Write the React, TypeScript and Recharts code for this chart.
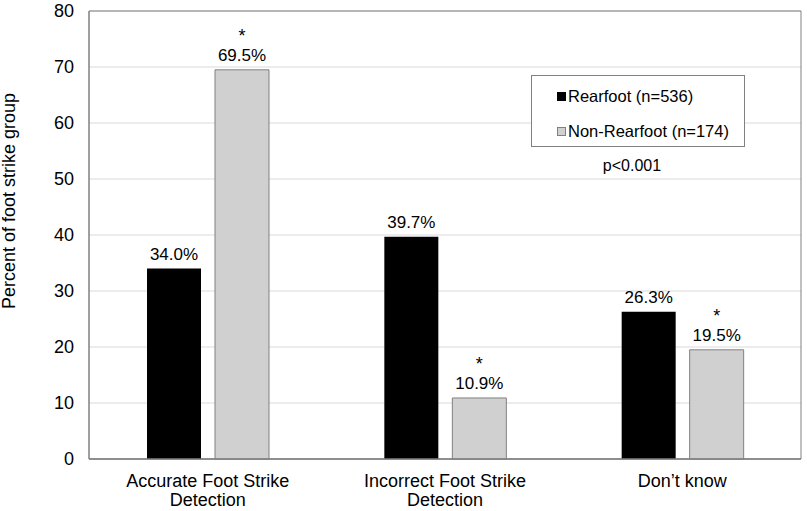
import React from "react";
import {
  BarChart,
  Bar,
  XAxis,
  YAxis,
  CartesianGrid,
  LabelList,
  Legend,
  ReferenceArea,
} from "recharts";

const categories = [
  "Accurate Foot Strike\nDetection",
  "Incorrect Foot Strike\nDetection",
  "Don’t know",
];
const rearfoot = [34.0, 39.7, 26.3];
const nonRearfoot = [69.5, 10.9, 19.5];
const rearfootSig = [false, false, false];
const nonRearfootSig = [true, true, true];
const yTicks = [0, 10, 20, 30, 40, 50, 60, 70, 80];
const seriesNames = ["Rearfoot (n=536)", "Non-Rearfoot (n=174)"];
const pValueText = "p<0.001";
const yAxisTitle = "Percent of foot strike group";

const FONT = '"Liberation Sans", Arial, Helvetica, sans-serif';

const data = categories.map((c, i) => ({
  name: c,
  rearfoot: rearfoot[i],
  nonRearfoot: nonRearfoot[i],
}));

const makeLabel = (sig: boolean[]) => (props: any) => {
  const { x, y, width, value, index } = props;
  const cx = Number(x) + Number(width) / 2;
  const base = Number(y) - 9;
  return (
    <g>
      {sig[index] ? (
        <text
          x={cx}
          y={base - 19}
          textAnchor="middle"
          fontSize={18}
          fontFamily={FONT}
          fill="#000"
        >
          *
        </text>
      ) : null}
      <text
        x={cx}
        y={base}
        textAnchor="middle"
        fontSize={17}
        fontFamily={FONT}
        fill="#000"
      >
        {Number(value).toFixed(1) + "%"}
      </text>
    </g>
  );
};

const CategoryTick = (props: any) => {
  const { x, y, payload } = props;
  const lines = String(payload.value).split("\n");
  return (
    <text
      x={x}
      y={y}
      textAnchor="middle"
      fontSize={18}
      fontFamily={FONT}
      fill="#000"
    >
      {lines.map((l: string, i: number) => (
        <tspan key={i} x={x} dy={i === 0 ? 20 : 19}>
          {l}
        </tspan>
      ))}
    </text>
  );
};

const YTitle = (props: any) => {
  const vb = props.viewBox || {};
  const cx = 15;
  const cy = Number(vb.y) + Number(vb.height) / 2 - 34;
  return (
    <text
      x={cx}
      y={cy}
      transform={`rotate(-90, ${cx}, ${cy})`}
      textAnchor="middle"
      fontSize={18}
      fontFamily={FONT}
      fill="#000"
    >
      {yAxisTitle}
    </text>
  );
};

const LegendBox = () => (
  <div
    style={{
      width: 214,
      height: 72,
      boxSizing: "border-box",
      border: "1px solid #808080",
      background: "#fff",
      position: "relative",
      fontFamily: FONT,
      fontSize: 16.5,
      color: "#000",
    }}
  >
    {seriesNames.map((n, i) => (
      <div
        key={n}
        style={{
          position: "absolute",
          left: 25,
          top: i === 0 ? 9 : 44,
          height: 22,
          display: "flex",
          alignItems: "center",
          whiteSpace: "nowrap",
        }}
      >
        <span
          style={{
            display: "inline-block",
            width: 9,
            height: 9,
            boxSizing: "border-box",
            background: i === 0 ? "#000" : "#d0d0d0",
            border: i === 0 ? "1px solid #000" : "1px solid #808080",
            marginRight: 2,
          }}
        />
        <span>{n}</span>
      </div>
    ))}
  </div>
);

export default function App() {
  return (
    <div
      style={{
        position: "absolute",
        left: 0,
        top: 0,
        width: 807,
        height: 511,
        background: "#fff",
      }}
    >
      <BarChart
        width={807}
        height={511}
        data={data}
        margin={{ top: 11, right: 6, bottom: 0, left: 0 }}
        barGap={14}
      >
        <CartesianGrid vertical={false} stroke="#d9d9d9" />
        <XAxis
          dataKey="name"
          axisLine={{ stroke: "#808080", strokeWidth: 1.5 }}
          tickLine={false}
          tick={<CategoryTick />}
          interval={0}
          height={52}
        />
        <YAxis
          domain={[0, 80]}
          ticks={yTicks}
          width={89}
          axisLine={{ stroke: "#808080" }}
          tickLine={false}
          tickMargin={9}
          tick={{ fontSize: 18, fill: "#000", fontFamily: FONT }}
          label={<YTitle />}
        />
        <ReferenceArea
          y1={0}
          y2={80}
          fill="none"
          stroke="#808080"
          strokeWidth={1}
          ifOverflow="visible"
        />
        <Legend
          layout="vertical"
          align="center"
          verticalAlign="middle"
          content={<LegendBox />}
          wrapperStyle={{ left: 531, top: 75, width: 214, height: 72 }}
        />
        <Bar
          dataKey="rearfoot"
          name={seriesNames[0]}
          fill="#000"
          barSize={54}
          isAnimationActive={false}
        >
          <LabelList dataKey="rearfoot" content={makeLabel(rearfootSig)} />
        </Bar>
        <Bar
          dataKey="nonRearfoot"
          name={seriesNames[1]}
          fill="#d0d0d0"
          stroke="#808080"
          strokeWidth={1}
          barSize={54}
          isAnimationActive={false}
        >
          <LabelList
            dataKey="nonRearfoot"
            content={makeLabel(nonRearfootSig)}
          />
        </Bar>
      </BarChart>
      <div
        style={{
          position: "absolute",
          left: 582,
          top: 157,
          width: 100,
          textAlign: "center",
          fontFamily: FONT,
          fontSize: 16,
          color: "#000",
        }}
      >
        {pValueText}
      </div>
    </div>
  );
}
